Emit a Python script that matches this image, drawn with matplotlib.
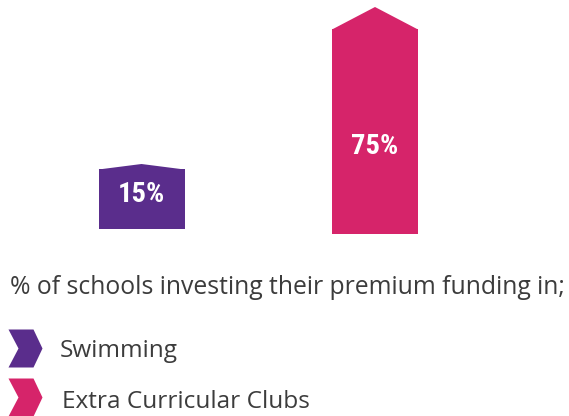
import matplotlib
matplotlib.use("Agg")
import matplotlib.pyplot as plt
from matplotlib.patches import Polygon
from matplotlib.path import Path

# data
categories = ["Swimming", "Extra Curricular Clubs"]
percent_values = [15, 75]
# drawn heights (px-like units; the graphic is not to scale)
body_tops = [65, 205]
roof_peaks = [70, 227]
bar_bottoms = [5, 0]
colors = ["#5A2D8C", "#D6246A"]
caption = "% of schools investing their premium funding in;"

W, H = 569, 416
fig = plt.figure(figsize=(W / 100, H / 100), dpi=100)

# ----- bars -----
ax = fig.add_axes([0, (H - 234) / H, 1, 234 / H])
ax.set_ylim(0, 234)
spacing = 233.5
ax.set_xlim(-141.5 / spacing, (W - 141.5) / spacing)
ax.axis("off")

width = 86 / spacing
xs = list(range(len(categories)))
ax.bar(xs, [t - b for t, b in zip(body_tops, bar_bottoms)], width=width,
       bottom=bar_bottoms, color=colors, linewidth=0)

for x, top, peak, col in zip(xs, body_tops, roof_peaks, colors):
    ax.add_patch(Polygon([(x - width / 2, top - 0.5), (x, peak), (x + width / 2, top - 0.5)],
                         closed=True, facecolor=col, edgecolor="none"))

label_y = [39, 87]
for x, y, val in zip(xs, label_y, percent_values):
    ax.text(x, y, f"{val}%", ha="center", va="center", color="white",
            fontsize=20.5, fontweight="heavy", fontstretch="condensed",
            family=["Roboto Condensed", "Roboto", "DejaVu Sans"])

# ----- caption -----
fig.text(10 / W, 1 - 287 / H, caption, ha="left", va="center",
         fontsize=17.8, color="#3C3C3C", family=["Open Sans", "DejaVu Sans"])

# ----- legend with chevrons -----
chevron = Path([(-17, 19), (8, 19), (17, 0), (8, -19), (-17, -19), (-7, 0), (-17, 19)],
               [Path.MOVETO] + [Path.LINETO] * 5 + [Path.CLOSEPOLY])
lax = fig.add_axes([0, 0, 1, 1])
lax.set_xlim(0, W)
lax.set_ylim(H, 0)
lax.axis("off")
leg_y = [348, 397]
leg_text_x = [60, 62]
text_dy = [3, 5]
for y, tx, dy, col, name in zip(leg_y, leg_text_x, text_dy, colors, categories):
    lax.scatter([25], [y], marker=chevron, s=(38 * 0.72) ** 2, color=col, linewidths=0)
    lax.text(tx, y + dy, name, ha="left", va="center", fontsize=17.6,
             color="#3C3C3C", family=["Open Sans", "DejaVu Sans"])

fig.savefig("out.png", dpi=100)
